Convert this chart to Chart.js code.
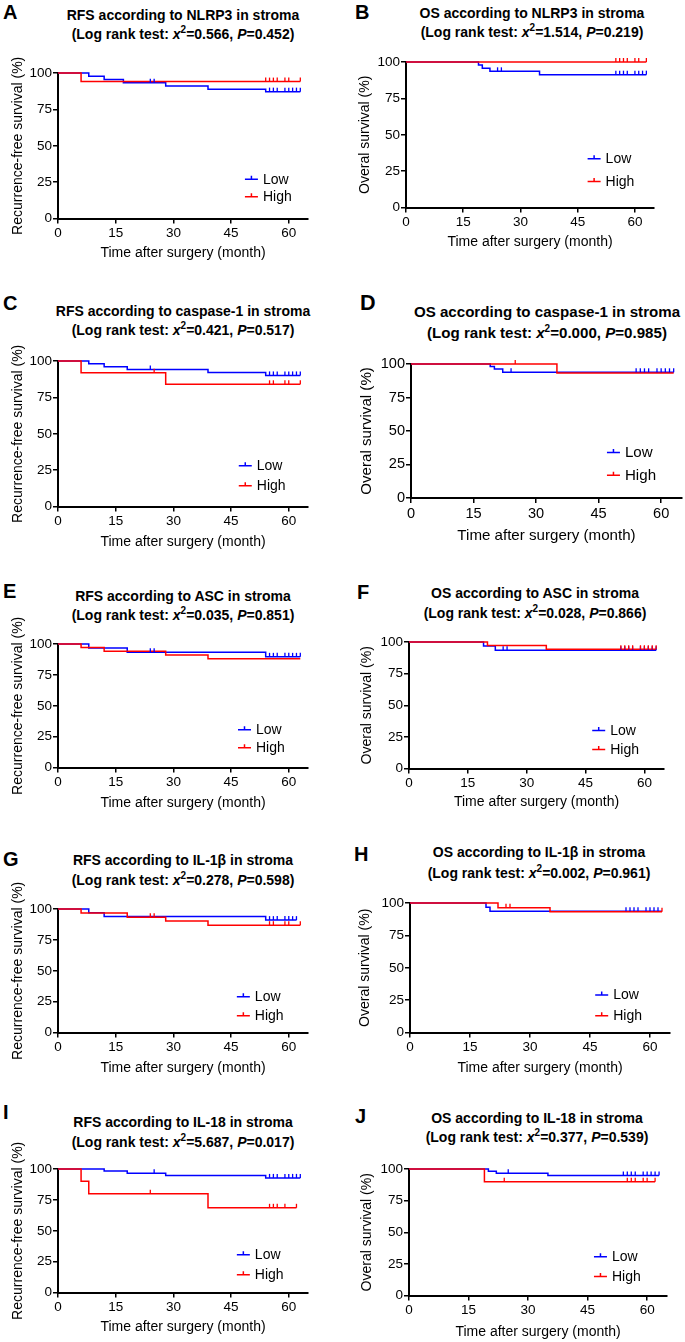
<!DOCTYPE html>
<html>
<head>
<meta charset="utf-8">
<script src="https://cdn.jsdelivr.net/npm/chart.js@4.4.1/dist/chart.umd.min.js"></script>
<style>
  body { margin: 0; width: 685px; height: 1342px; background: #fff; position: relative; overflow: hidden;
         font-family: Arial, "Liberation Sans", sans-serif; color: #000; }
  .letter { position: absolute; font-weight: bold; font-size: 20px; line-height: 20px; }
  .title { position: absolute; width: 360px; text-align: center; font-weight: bold; font-size: 14px; white-space: nowrap; }
  .title sup { font-size: 10px; line-height: 0; }
  canvas { position: absolute; }
</style>
</head>
<body>
<script>
// --- Data ---
const xTicks = [0, 15, 30, 45, 60];
const yTicks = [0, 25, 50, 75, 100];

// A: RFS, NLRP3
const aLowT = [0, 8, 12, 17, 28, 39, 54, 63];
const aLowS = [100, 97.8, 95.6, 93.3, 91.1, 88.9, 87.2, 87.2];
const aLowC = [24, 25, 55, 56, 57, 59, 60, 61, 62, 63];
const aHighT = [0, 6, 63];
const aHighS = [100, 94.1, 94.1];
const aHighC = [54, 55, 56, 57, 59, 60, 63];

// B: OS, NLRP3
const bLowT = [0, 19, 20, 22, 35, 63];
const bLowS = [100, 97.9, 95.7, 93.6, 91.3, 91.3];
const bLowC = [24, 25, 55, 56, 57, 58, 60, 61, 62, 63];
const bHighT = [0, 63];
const bHighS = [100, 100];
const bHighC = [55, 56, 57, 58, 60, 61, 63];

// C: RFS, caspase-1
const cLowT = [0, 8, 12, 18, 39, 54, 63];
const cLowS = [100, 98.1, 96.1, 94.2, 92.1, 90.1, 90.1];
const cLowC = [24, 55, 56, 57, 59, 60, 61, 62, 63];
const cHighT = [0, 6, 28, 63];
const cHighS = [100, 92.0, 84.0, 84.0];
const cHighC = [25, 55, 56, 59, 60, 63];

// D: OS, caspase-1
const dLowT = [0, 19, 20, 22, 63];
const dLowS = [100, 98.2, 96.3, 93.8, 93.8];
const dLowC = [24, 54, 55, 56, 57, 59, 60, 61, 62, 63];
const dHighT = [0, 35, 63];
const dHighS = [100, 93.3, 93.3];
const dHighC = [25];

// E: RFS, ASC
const eLowT = [0, 8, 18, 54, 63];
const eLowS = [100, 96.8, 93.4, 89.6, 89.6];
const eLowC = [24, 25, 55, 56, 57, 59, 60, 61, 62, 63];
const eHighT = [0, 6, 12, 28, 39, 63];
const eHighS = [100, 97.1, 94.1, 91.1, 88.0, 88.0];
const eHighC = [];

// F: OS, ASC
const fLowT = [0, 19, 22, 63];
const fLowS = [100, 96.8, 93.5, 93.5];
const fLowC = [24, 25, 54, 55, 56, 57, 59, 60, 61, 62, 63];
const fHighT = [0, 20, 35, 63];
const fHighS = [100, 97.2, 94.3, 94.3];
const fHighC = [54, 55, 56, 57, 59, 60, 61, 62, 63];

// G: RFS, IL-1b
const gLowT = [0, 8, 12, 54, 62];
const gLowS = [100, 97.0, 94.0, 91.0, 91.0];
const gLowC = [55, 56, 57, 59, 60, 61, 62];
const gHighT = [0, 6, 18, 28, 39, 63];
const gHighS = [100, 96.8, 93.4, 90.2, 86.9, 86.9];
const gHighC = [24, 25, 55, 56, 59, 60, 63];

// H: OS, IL-1b
const hLowT = [0, 19, 20, 63];
const hLowS = [100, 96.7, 93.6, 93.6];
const hLowC = [54, 55, 56, 57, 59, 60, 61, 62];
const hHighT = [0, 22, 35, 63];
const hHighS = [100, 96.4, 93.2, 93.2];
const hHighC = [24, 25, 63];

// I: RFS, IL-18
const iLowT = [0, 12, 18, 28, 54, 63];
const iLowS = [100, 98.3, 96.5, 94.7, 92.8, 92.8];
const iLowC = [25, 55, 56, 57, 59, 60, 61, 62, 63];
const iHighT = [0, 6, 8, 39, 62];
const iHighS = [100, 90.0, 80.0, 68.6, 68.6];
const iHighC = [24, 55, 56, 57, 59, 62];

// J: OS, IL-18
const jLowT = [0, 20, 22, 35, 63];
const jLowS = [100, 98.3, 96.6, 94.8, 94.8];
const jLowC = [25, 54, 55, 56, 57, 59, 60, 61, 62, 63];
const jHighT = [0, 19, 62];
const jHighS = [100, 90.0, 90.0];
const jHighC = [24, 55, 56, 57, 59, 60, 62];

const titles = [
  'RFS according to NLRP3 in stroma', 'OS according to NLRP3 in stroma',
  'RFS according to caspase-1 in stroma', 'OS according to caspase-1 in stroma',
  'RFS according to ASC in stroma', 'OS according to ASC in stroma',
  'RFS according to IL-1β in stroma', 'OS according to IL-1β in stroma',
  'RFS according to IL-18 in stroma', 'OS according to IL-18 in stroma'
];
const chiValues = ['0.566', '1.514', '0.421', '0.000', '0.035', '0.028', '0.278', '0.002', '5.687', '0.377'];
const pValues = ['0.452', '0.219', '0.517', '0.985', '0.851', '0.866', '0.598', '0.961', '0.017', '0.539'];
const letters = ['A', 'B', 'C', 'D', 'E', 'F', 'G', 'H', 'I', 'J'];
const yTitles = { RFS: 'Recurrence-free survival (%)', OS: 'Overal survival (%)' };

const BLUE = '#0000FF';
const RED = '#FF0000';
const FONT = 'Arial, "Liberation Sans", sans-serif';

const panels = [
  { kind: 'RFS', low: [aLowT, aLowS, aLowC], high: [aHighT, aHighS, aHighC], left: 0,   ax: 58,  top: 73,   bottom: 219,  x60: 289, xTitleY: 254,  yTitleX: 18,  tcx: 183, t1: 15.5, t2: 34,   lx: 3,   ly: 2,    leg: [48.6, 27, 15] },
  { kind: 'OS',  low: [bLowT, bLowS, bLowC], high: [bHighT, bHighS, bHighC], left: 342, ax: 406, top: 62,   bottom: 208,  x60: 635, xTitleY: 243,  yTitleX: 365, tcx: 532, t1: 13,   t2: 32,   lx: 355, ly: 2,    leg: [47.6, 33.6, 18] },
  { kind: 'RFS', low: [cLowT, cLowS, cLowC], high: [cHighT, cHighS, cHighC], left: 0,   ax: 58,  top: 361,  bottom: 507,  x60: 289, xTitleY: 543,  yTitleX: 18,  tcx: 183, t1: 311,  t2: 330,  lx: 3,   ly: 293,  leg: [47, 28, 14.4] },
  { kind: 'OS',  low: [dLowT, dLowS, dLowC], high: [dHighT, dHighS, dHighC], left: 342, ax: 411, top: 364,  bottom: 498,  x60: 661, xTitleY: 536,  yTitleX: 367, tcx: 547, t1: 312.5, t2: 333, lx: 360, ly: 293,  leg: [47, 34, 17], fs: 1.08 },
  { kind: 'RFS', low: [eLowT, eLowS, eLowC], high: [eHighT, eHighS, eHighC], left: 0,   ax: 58,  top: 644,  bottom: 768,  x60: 289, xTitleY: 804,  yTitleX: 18,  tcx: 183, t1: 596,  t2: 615,  lx: 3,   ly: 581,  leg: [46.8, 30.6, 16] },
  { kind: 'OS',  low: [fLowT, fLowS, fLowC], high: [fHighT, fHighS, fHighC], left: 342, ax: 409, top: 642,  bottom: 769,  x60: 644, xTitleY: 803,  yTitleX: 367, tcx: 535, t1: 594,  t2: 613.5, lx: 357, ly: 582,  leg: [46.7, 30, 15] },
  { kind: 'RFS', low: [gLowT, gLowS, gLowC], high: [gHighT, gHighS, gHighC], left: 0,   ax: 58,  top: 909,  bottom: 1033, x60: 289, xTitleY: 1069, yTitleX: 18,  tcx: 183, t1: 860,  t2: 880,  lx: 3,   ly: 849,  leg: [46.5, 29, 13.7] },
  { kind: 'OS',  low: [hLowT, hLowS, hLowC], high: [hHighT, hHighS, hHighC], left: 342, ax: 410, top: 903,  bottom: 1033, x60: 650, xTitleY: 1069, yTitleX: 365, tcx: 539, t1: 852,  t2: 873,  lx: 354, ly: 844,  leg: [46.3, 29, 13] },
  { kind: 'RFS', low: [iLowT, iLowS, iLowC], high: [iHighT, iHighS, iHighC], left: 0,   ax: 58,  top: 1169, bottom: 1293, x60: 289, xTitleY: 1328, yTitleX: 18,  tcx: 183, t1: 1122, t2: 1142, lx: 3,   ly: 1102, leg: [46.5, 30.6, 14.5] },
  { kind: 'OS',  low: [jLowT, jLowS, jLowC], high: [jHighT, jHighS, jHighC], left: 342, ax: 409, top: 1169, bottom: 1296, x60: 647, xTitleY: 1333, yTitleX: 367, tcx: 537, t1: 1118.5, t2: 1138, lx: 355, ly: 1106, leg: [46.6, 30.7, 15] }
];

// --- Helpers ---
function stepPoints(T, S) {
  return T.map((t, i) => ({ x: t, y: S[i] }));
}

// survival value of the curve at each censoring time
function censorPoints(T, S, C) {
  return C.map(c => {
    let s = S[0];
    for (let i = 0; i < T.length; i++) if (T[i] <= c) s = S[i];
    return { x: c, y: s };
  });
}

const kmLegend = {
  id: 'kmLegend',
  afterDatasetsDraw(chart, args, opts) {
    const { ctx, scales: { x, y } } = chart;
    const x0 = x.getPixelForValue(opts.x);
    opts.rows.forEach(r => {
      const py = y.getPixelForValue(r.y);
      ctx.save();
      ctx.strokeStyle = r.color;
      ctx.lineWidth = 1.5;
      ctx.beginPath();
      ctx.moveTo(x0, py); ctx.lineTo(x0 + 13, py);
      ctx.moveTo(x0 + 6.5, py); ctx.lineTo(x0 + 6.5, py - 3.5);
      ctx.stroke();
      ctx.fillStyle = '#000';
      ctx.font = opts.size + 'px ' + FONT;
      ctx.textBaseline = 'middle';
      ctx.fillText(r.label, x0 + 18, py + 0.5);
      ctx.restore();
    });
  }
};

function addDiv(cls, html, css) {
  const d = document.createElement('div');
  d.className = cls;
  d.innerHTML = html;
  Object.assign(d.style, css);
  document.body.appendChild(d);
}

// --- Build panels ---
panels.forEach((p, k) => {
  const fs = p.fs || 1;

  addDiv('letter', letters[k], { left: p.lx + 'px', top: p.ly + 'px', fontSize: (20 * fs) + 'px' });
  const L = p.t2 - p.t1;
  addDiv('title',
    titles[k] + '<br>(Log rank test: <i>x</i><sup>2</sup>=' + chiValues[k] + ', <i>P</i>=' + pValues[k] + ')',
    { left: (p.tcx - 180) + 'px', top: (p.t1 - L / 2) + 'px', lineHeight: L + 'px', fontSize: (14 * fs) + 'px' });

  const tickSize = 13.5 * fs, titleSize = 14 * fs, lh = titleSize * 1.2;
  const right = p.ax + (p.x60 - p.ax) * 65 / 60;
  const padTop = 32, padRight = 6;
  const padLeft = p.yTitleX - p.left - lh / 2;
  const yW = p.ax - p.left - padLeft;
  const xH = p.xTitleY - p.bottom + lh / 2;
  const W = Math.round(right - p.left + padRight);
  const H = Math.round(padTop + (p.bottom - p.top) + xH);

  const cv = document.createElement('canvas');
  cv.width = W; cv.height = H;
  cv.style.left = p.left + 'px';
  cv.style.top = (p.top - padTop) + 'px';
  cv.style.width = W + 'px'; cv.style.height = H + 'px';
  document.body.appendChild(cv);

  const [lowT, lowS, lowC] = p.low;
  const [highT, highS, highC] = p.high;

  const censor = (pts, color) => ({
    data: pts, showLine: false, clip: false,
    pointStyle: 'dash', pointRotation: -90, pointRadius: 4,
    pointBorderColor: color, pointBorderWidth: 1.3, pointBackgroundColor: color
  });
  const curve = (pts, color) => ({
    data: pts, stepped: 'before', borderColor: color, borderWidth: 1.5,
    pointRadius: 0, fill: false, clip: false
  });

  const axisGrid = { display: true, drawOnChartArea: false, drawTicks: true, tickLength: 5, color: '#000', lineWidth: 1.5 };

  new Chart(cv, {
    type: 'line',
    data: {
      datasets: [
        censor(censorPoints(highT, highS, highC), RED),
        censor(censorPoints(lowT, lowS, lowC), BLUE),
        curve(stepPoints(highT, highS), RED),
        curve(stepPoints(lowT, lowS), BLUE)
      ]
    },
    options: {
      responsive: false,
      animation: false,
      events: [],
      layout: { padding: { left: padLeft, top: padTop, right: padRight, bottom: 0 } },
      plugins: {
        legend: { display: false },
        tooltip: { enabled: false },
        kmLegend: {
          x: p.leg[0], size: 14 * fs,
          rows: [{ label: 'Low', color: BLUE, y: p.leg[1] }, { label: 'High', color: RED, y: p.leg[2] }]
        }
      },
      scales: {
        x: {
          type: 'linear', min: 0, max: 65,
          afterBuildTicks: s => { s.ticks = xTicks.map(v => ({ value: v })); },
          afterFit: s => { s.height = xH; },
          grid: axisGrid,
          border: { display: true, color: '#000', width: 2 },
          ticks: { color: '#000', font: { family: FONT, size: tickSize }, padding: 2, maxRotation: 0 },
          title: { display: true, text: 'Time after surgery (month)', color: '#000', font: { family: FONT, size: titleSize }, padding: 0 }
        },
        y: {
          type: 'linear', min: 0, max: 100,
          afterBuildTicks: s => { s.ticks = yTicks.map(v => ({ value: v })); },
          afterFit: s => { s.width = yW; },
          grid: axisGrid,
          border: { display: true, color: '#000', width: 2 },
          ticks: { color: '#000', font: { family: FONT, size: tickSize }, padding: 1 },
          title: { display: true, text: yTitles[p.kind], color: '#000', font: { family: FONT, size: titleSize }, padding: 0 }
        }
      }
    },
    plugins: [kmLegend]
  });
});
</script>
</body>
</html>
